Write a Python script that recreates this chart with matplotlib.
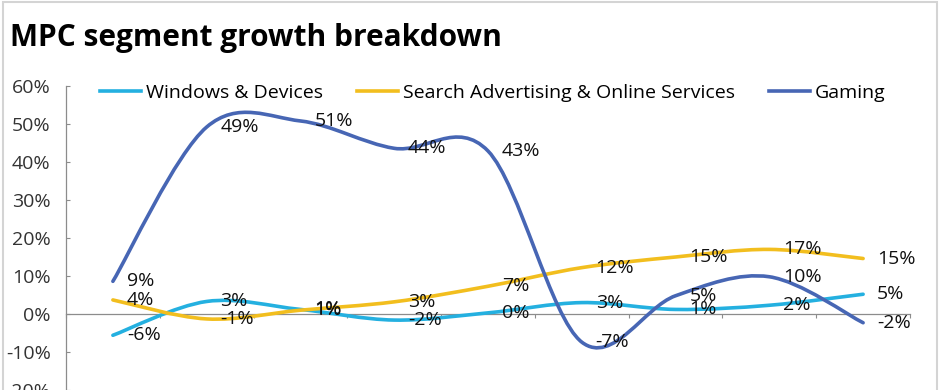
import matplotlib.pyplot as plt
import numpy as np
from matplotlib.path import Path
from matplotlib.patches import PathPatch, Rectangle
from matplotlib.lines import Line2D
from matplotlib.ticker import FuncFormatter

plt.rcParams['font.family'] = ['Open Sans', 'DejaVu Sans']

# growth by segment, % (9 periods, x labels are cropped out of the picture)
windows = [-5.6, 3.3, 1.2, -1.6, 0.3, 3.0, 1.2, 2.3, 5.2]
search = [3.7, -1.3, 1.0, 3.2, 7.3, 12.2, 15.0, 17.0, 14.6]
gaming = [8.6, 49.2, 50.8, 43.6, 42.9, -7.4, 4.8, 9.8, -2.3]
names = ['Windows & Devices', 'Search Advertising & Online Services', 'Gaming']
colors = ['#24B0E0', '#F2BE1E', '#4766B4']


def smooth_path(ys):
    # excel-style smoothed line: cubic bezier through every point
    xs = np.arange(len(ys), dtype=float)
    pts = np.column_stack([xs, np.asarray(ys, dtype=float)])
    verts = [pts[0]]
    codes = [Path.MOVETO]
    n = len(pts)
    for i in range(n - 1):
        p0 = pts[max(i - 1, 0)]
        p1 = pts[i]
        p2 = pts[i + 1]
        p3 = pts[min(i + 2, n - 1)]
        c1 = p1 + (p2 - p0) / 6.0
        c2 = p2 - (p3 - p1) / 6.0
        verts += [c1, c2, p2]
        codes += [Path.CURVE4] * 3
    return Path(verts, codes)


fs = 14
fig = plt.figure(figsize=(9.41, 3.90), dpi=100)
ax = fig.add_axes([66 / 941, 0.0, (910 - 66) / 941, (390 - 86) / 390])

for ys, c in zip([windows, search, gaming], colors):
    ax.add_patch(PathPatch(smooth_path(ys), fill=False, edgecolor=c, lw=2.6,
                           capstyle='round', joinstyle='round', zorder=3))
    for i, v in enumerate(ys):
        ax.annotate('{:.0f}%'.format(round(v) + 0.0), xy=(i, v), xytext=(10, 0),
                    textcoords='offset points', ha='left', va='center',
                    fontsize=fs, color='#111111', zorder=4)

ax.set_xlim(-0.5, 8.5)
ax.set_ylim(-20, 60)
ax.set_yticks(np.arange(-20, 61, 10))
ax.yaxis.set_major_formatter(FuncFormatter(lambda v, p: '{:.0f}%'.format(v)))
ax.set_xticks(np.arange(-0.5, 8.6, 1))
ax.set_xticklabels([])

for s in ['top', 'right']:
    ax.spines[s].set_visible(False)
ax.spines['bottom'].set_position(('data', 0))
ax.spines['bottom'].set_color('#8c8c8c')
ax.spines['left'].set_color('#8c8c8c')
ax.spines['bottom'].set_linewidth(0.9)
ax.spines['left'].set_linewidth(0.9)
ax.tick_params(axis='y', direction='in', length=3, color='#8c8c8c',
               labelsize=fs, labelcolor='#333333', pad=11)
ax.tick_params(axis='x', direction='out', length=3, color='#8c8c8c')

handles = [Line2D([], [], color=c, lw=2.6) for c in colors]
fig.legend(handles, names, loc='center left', bbox_to_anchor=(100 / 941, 1 - 93 / 390),
           ncol=3, frameon=False, fontsize=fs, handlelength=2.1,
           handletextpad=0.26, columnspacing=1.75, borderpad=0, borderaxespad=0)

fig.text(10 / 941, 1 - 38 / 390, 'MPC segment growth breakdown', fontsize=21.5,
         fontweight='bold', ha='left', va='center', color='black')

fig.patches.append(Rectangle((3 / 941, -0.01), 934 / 941, 1 - 2 / 390 + 0.01,
                             transform=fig.transFigure, fill=False,
                             edgecolor='#d4d4d4', lw=1.5))

fig.savefig('out.png', dpi=100)
